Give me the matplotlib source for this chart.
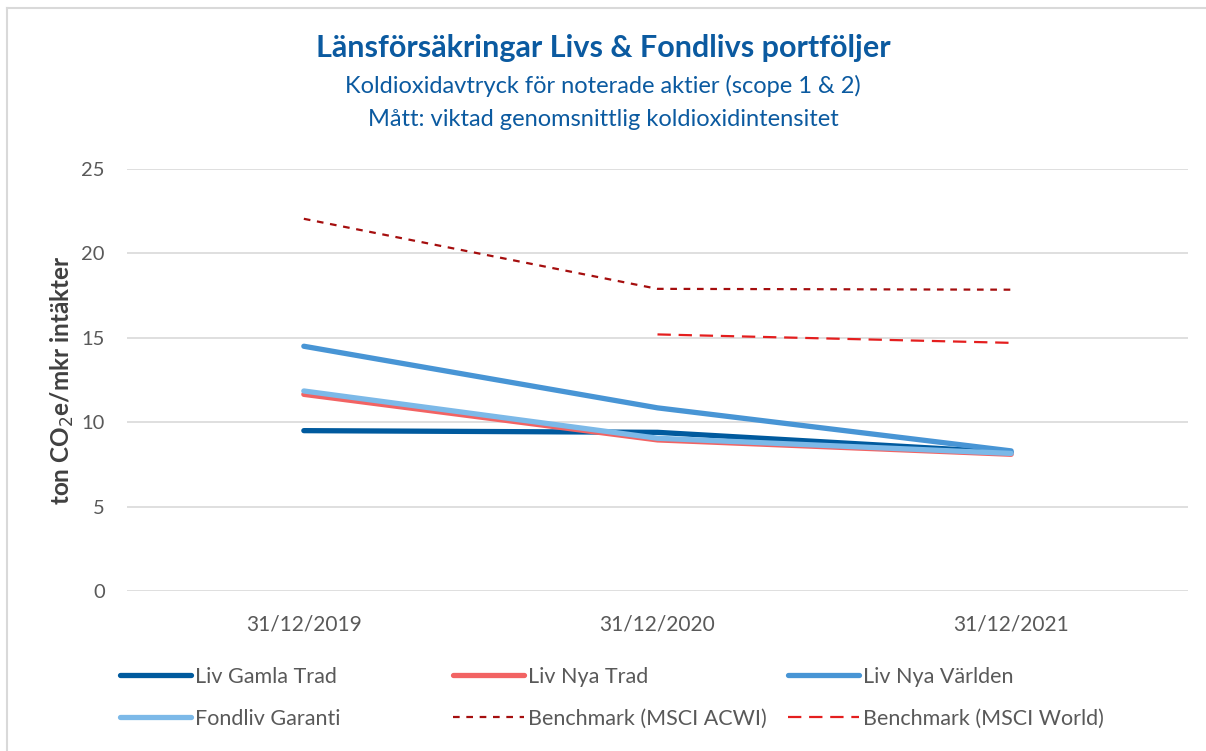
import matplotlib
matplotlib.use("Agg")
import matplotlib.pyplot as plt
from matplotlib.lines import Line2D
import numpy as np

categories = ["31/12/2019", "31/12/2020", "31/12/2021"]
liv_gamla_trad = [9.5, 9.4, 8.2]
liv_nya_trad = [11.65, 8.95, 8.1]
liv_nya_varlden = [14.5, 10.85, 8.3]
fondliv_garanti = [11.85, 9.05, 8.15]
bench_acwi = [22.05, 17.9, 17.85]
bench_world = [np.nan, 15.2, 14.7]
yticks = [0, 5, 10, 15, 20, 25]

FONT = ["Lato", "DejaVu Sans"]
plt.rcParams['font.family'] = FONT
TXT = "#595959"
BLUE = "#0B5AA0"

fig = plt.figure(figsize=(12.06, 7.51), dpi=100)
ax = fig.add_axes([127/1206, 1-591/751, (1188-127)/1206, (591-169)/751])

x = np.arange(len(categories))
ax.plot(x, liv_gamla_trad, color="#005A9E", lw=3.8, solid_capstyle="round", label="Liv Gamla Trad", zorder=3)
ax.plot(x, liv_nya_trad, color="#F26363", lw=3.8, solid_capstyle="round", label="Liv Nya Trad", zorder=3)
ax.plot(x, liv_nya_varlden, color="#4895D5", lw=3.8, solid_capstyle="round", label="Liv Nya Världen", zorder=3)
ax.plot(x, fondliv_garanti, color="#7CB9E8", lw=3.8, solid_capstyle="round", label="Fondliv Garanti", zorder=3)
ax.plot(x, bench_acwi, color="#A50E0E", lw=1.6, linestyle=(0, (3, 3)), label="Benchmark (MSCI ACWI)", zorder=3)
ax.plot(x, bench_world, color="#E41E1E", lw=1.6, linestyle=(0, (6, 3.5)), label="Benchmark (MSCI World)", zorder=3)

ax.set_xlim(-0.5, 2.5)
ax.set_ylim(0, 25)
ax.set_yticks(yticks)
ax.set_xticks(x)
ax.set_xticklabels(categories)
ax.grid(axis="y", color="#D9D9D9", lw=1.2)
ax.set_axisbelow(True)
for s in ax.spines.values():
    s.set_visible(False)
ax.tick_params(axis="y", length=0, labelsize=14.5, colors=TXT, pad=16)
ax.tick_params(axis="x", length=0, labelsize=15, colors=TXT, pad=17)
ax.set_ylabel("ton CO$_2$e/mkr intäkter", fontsize=17.5, fontweight="bold", color="#404040",
              va="center")
ax.yaxis.set_label_coords((62-127)/1061, 0.5)

fig.text(0.5, 1-48/751, "Länsförsäkringar Livs & Fondlivs portföljer", ha="center", va="center",
         fontsize=22, fontweight="bold", color=BLUE)
fig.text(0.5, 1-86/751, "Koldioxidavtryck för noterade aktier (scope 1 & 2)", ha="center", va="center",
         fontsize=17, color=BLUE)
fig.text(0.5, 1-120/751, "Mått: viktad genomsnittlig koldioxidintensitet", ha="center", va="center",
         fontsize=17, color=BLUE)

handles, labels = ax.get_legend_handles_labels()
xpos = [120, 453, 788]
ypos = [677, 719]
for i, (h, l) in enumerate(zip(handles, labels)):
    col, row = i % 3, i // 3
    fig.legend([h], [l], loc="center left",
               bbox_to_anchor=(xpos[col]/1206, 1-ypos[row]/751),
               frameon=False, fontsize=15.5, handlelength=3.3, handletextpad=0.2,
               borderpad=0, borderaxespad=0, labelcolor=TXT)

fig.add_artist(Line2D([6.5/1206, 6.5/1206], [0, 1-8/751], transform=fig.transFigure,
                      color="#D9D9D9", lw=1.5))
fig.add_artist(Line2D([6.5/1206, 1], [1-8/751, 1-8/751], transform=fig.transFigure,
                      color="#D9D9D9", lw=1.5))

fig.savefig("out.png", dpi=100)
